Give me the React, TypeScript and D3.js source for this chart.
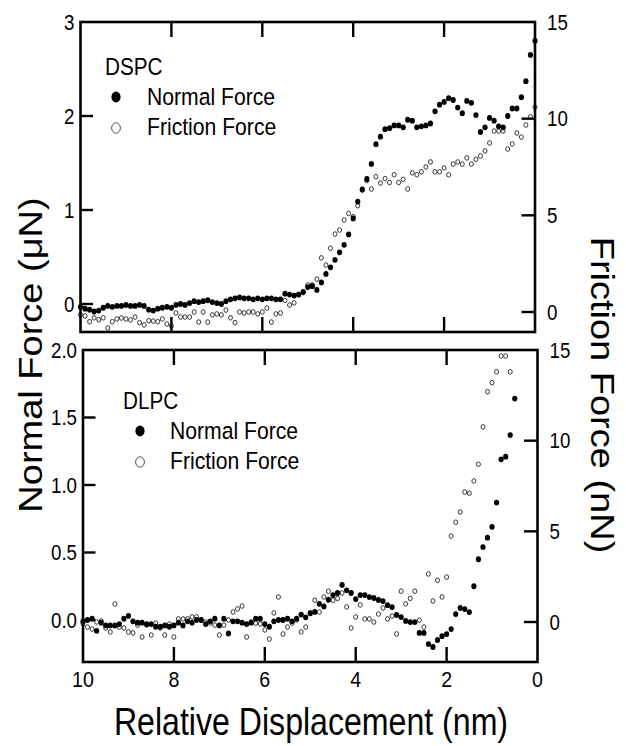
import React from 'react';
import * as d3 from 'd3';

// Relative displacement grid (nm): one sample every 0.1 nm
const displacement = [
  10.0, 9.9, 9.8, 9.7, 9.6, 9.5, 9.4, 9.3, 9.2, 9.1,
  9.0, 8.9, 8.8, 8.7, 8.6, 8.5, 8.4, 8.3, 8.2, 8.1,
  8.0, 7.9, 7.8, 7.7, 7.6, 7.5, 7.4, 7.3, 7.2, 7.1,
  7.0, 6.9, 6.8, 6.7, 6.6, 6.5, 6.4, 6.3, 6.2, 6.1,
  6.0, 5.9, 5.8, 5.7, 5.6, 5.5, 5.4, 5.3, 5.2, 5.1,
  5.0, 4.9, 4.8, 4.7, 4.6, 4.5, 4.4, 4.3, 4.2, 4.1,
  4.0, 3.9, 3.8, 3.7, 3.6, 3.5, 3.4, 3.3, 3.2, 3.1,
  3.0, 2.9, 2.8, 2.7, 2.6, 2.5, 2.4, 2.3, 2.2, 2.1,
  2.0, 1.9, 1.8, 1.7, 1.6, 1.5, 1.4, 1.3, 1.2, 1.1,
  1.0, 0.9, 0.8, 0.7, 0.6, 0.5, 0.4, 0.3, 0.2, 0.1, 0.0,
];

// DSPC normal force (μN)
const dspcNormal = [
  -0.03, -0.05, -0.06, -0.08, -0.07, -0.04, -0.02, -0.03, -0.02, -0.02,
  -0.01, -0.02, -0.02, -0.01, -0.02, -0.06, -0.07, -0.05, -0.04, -0.03,
  -0.04, -0.01, 0.0, -0.01, 0.01, 0.03, 0.02, 0.03, 0.04, 0.02,
  0.01, 0.0, 0.03, 0.05, 0.06, 0.07, 0.06, 0.06, 0.05, 0.06,
  0.05, 0.06, 0.06, 0.05, 0.05, 0.11, 0.10, 0.09, 0.10, 0.13,
  0.18, 0.19, 0.15, 0.23, 0.32, 0.39, 0.47, 0.55, 0.63, 0.74,
  0.91, 1.09, 1.22, 1.33, 1.49, 1.70, 1.78, 1.86, 1.87, 1.90,
  1.90, 1.88, 1.96, 1.95, 1.88, 1.89, 1.90, 1.92, 2.05, 2.12,
  2.15, 2.19, 2.17, 2.09, 2.03, 2.16, 2.14, 2.01, 1.83, 1.88,
  1.98, 1.95, 1.89, 1.88, 2.00, 2.08, 2.08, 2.20, 2.37, 2.65, 2.80,
];

// DSPC friction force (nN)
const dspcFriction = [
  -0.14, -0.2, -0.5, -0.3, -0.4, -0.3, -0.83, -0.5, -0.36, -0.31,
  -0.36, -0.41, -0.26, -0.55, -0.67, -0.45, -0.47, -0.5, -0.36, -0.62,
  -0.72, -0.05, -0.26, -0.26, -0.26, 0.0, -0.52, 0.0, -0.52, -0.15,
  -0.1, -0.15, 0.1, -0.3, -0.55, 0.0, -0.05, 0.0, 0.0, -0.1,
  0.0, 0.2, -0.52, -0.1, -0.05, 0.6, 0.36, 0.47, 0.9, 1.0,
  1.4, 1.4, 1.7, 2.8, 2.43, 3.3, 4.03, 4.24, 4.76, 5.1,
  4.93, 5.5, 6.3, 6.8, 6.36, 7.0, 6.67, 6.9, 6.7, 7.1,
  6.7, 6.86, 6.36, 7.2, 7.1, 7.25, 7.5, 7.76, 7.25, 7.25,
  7.45, 7.1, 7.65, 7.76, 7.65, 7.97, 7.65, 7.9, 8.07, 8.33,
  8.74, 9.36, 9.36, 9.36, 8.43, 8.69, 9.26, 9.05, 9.67, 10.1, 10.6,
];

// DLPC normal force (μN)
const dlpcNormal = [
  -0.01, 0.0, 0.01, -0.08, -0.02, -0.04, -0.04, -0.04, -0.03, 0.01,
  0.03, -0.01, -0.02, -0.02, -0.03, -0.03, -0.05, -0.05, -0.04, -0.05,
  -0.04, -0.02, -0.04, -0.01, -0.02, 0.0, 0.0, -0.03, -0.01, 0.01,
  -0.04, 0.01, -0.10, -0.01, -0.01, -0.02, -0.03, -0.02, 0.01, 0.01,
  -0.03, -0.05, -0.01, 0.0, 0.0, 0.01, -0.01, 0.01, 0.04, 0.02,
  0.05, 0.06, 0.12, 0.10, 0.15, 0.185, 0.20, 0.26, 0.22, 0.20,
  0.155, 0.185, 0.185, 0.17, 0.163, 0.148, 0.14, 0.11, 0.096, 0.037,
  0.022, -0.007, -0.015, -0.015, -0.096, -0.096, -0.178, -0.20, -0.148, -0.12,
  -0.104, -0.067, 0.044, 0.089, 0.081, 0.059, 0.25, 0.45, 0.54, 0.61,
  0.69, 0.87, 1.19, 1.21, 1.37, 1.64,
];

// DLPC friction force (nN)
const dlpcFriction = [
  -0.1, -0.28, -0.39, 0.0, 0.06, -0.33, -0.55, 0.99, -0.28, -0.33,
  -0.55, -0.6, -0.17, -0.83, -0.17, -0.72, -0.06, -0.33, -0.72, -0.11,
  -0.83, 0.17, 0.17, 0.17, 0.28, 0.28, 0.11, 0.0, -0.06, -0.17,
  -0.72, -0.17, 0.11, 0.55, 0.72, 0.88, -0.83, 0.0, -0.06, -0.11,
  -0.44, -0.94, 0.5, 1.38, -0.66, -0.28, -0.06, 0.11, -0.55, -0.28,
  0.5, 1.2, 0.55, 1.38, 1.7, 1.2, 1.3, 1.6, 0.83, -0.33,
  0.28, 0.94, 0.17, 0.17, 0.0, 0.44, 0.77, 0.17, 0.33, -0.66,
  1.7, 1.0, 1.3, 1.7, 0.1, -0.28, 2.65, 1.16, 2.3, 1.38,
  2.48, 4.74, 5.5, 6.07, 7.17, 7.1, 7.78, 8.7, 10.76, 12.7,
  13.2, 13.8, 14.67, 14.67, 13.8,
];

const xTickValues = [10, 8, 6, 4, 2, 0];
const topLeftTicks = [0, 1, 2, 3];
const topRightTicks = [0, 5, 10, 15];
const bottomLeftTicks = [0, 0.5, 1.0, 1.5, 2.0];
const bottomRightTicks = [0, 5, 10, 15];
const topLegend = ['DSPC', 'Normal Force', 'Friction Force'];
const bottomLegend = ['DLPC', 'Normal Force', 'Friction Force'];
const axisTitles = ['Normal Force (μN)', 'Friction Force (nN)', 'Relative Displacement (nm)'];

const FONT = "'Liberation Sans', Arial, Helvetica, sans-serif";

function SText({ x, y, size, anchor = 'start', rotate = 0, sx = 0.87, children }: any) {
  const t = rotate === 0
    ? `translate(${x},${y}) scale(${sx},1)`
    : `translate(${x},${y}) rotate(${rotate}) scale(1,${sx})`;
  return (
    <text transform={t} fontSize={size} textAnchor={anchor} fontFamily={FONT} fill="#000">
      {children}
    </text>
  );
}

function Panel({ frame, yLdom, yRdom, yL0, yR0, normal, friction, leftTicks, rightTicks, leftFmt, legend, legendPos, showX }: any) {
  const { x0, x1, y0, y1 } = frame;
  const x = d3.scaleLinear().domain([10, 0]).range([x0, x1]);
  const yL = d3.scaleLinear().domain(yLdom).range([yL0, y0]);
  const yR = d3.scaleLinear().domain(yRdom).range([yR0, y0]);
  const tickLenX = 15;
  const tickLenY = 12.5;
  const inner = xTickValues.filter((v) => v !== 10 && v !== 0);
  return (
    <g>
      {/* friction: open circles */}
      {friction.map((v: number, i: number) => (
        <ellipse key={'f' + i} cx={x(displacement[i])} cy={yR(v)} rx={2.0} ry={2.3}
          fill="#fff" stroke="#222" strokeWidth={0.9} />
      ))}
      {/* normal: filled dots */}
      {normal.map((v: number, i: number) => (
        <ellipse key={'n' + i} cx={x(displacement[i])} cy={yL(v)} rx={2.6} ry={2.9} fill="#000" />
      ))}
      {/* frame */}
      <rect x={x0} y={y0} width={x1 - x0} height={y1 - y0} fill="none" stroke="#000" strokeWidth={2.6} />
      {inner.map((v) => (
        <g key={'xt' + v}>
          <line x1={x(v)} x2={x(v)} y1={y0} y2={y0 + tickLenX} stroke="#000" strokeWidth={2.4} />
          <line x1={x(v)} x2={x(v)} y1={y1} y2={y1 - tickLenX} stroke="#000" strokeWidth={2.4} />
        </g>
      ))}
      {leftTicks.map((v: number) => (
        <g key={'lt' + v}>
          {yL(v) > y0 + 2 && (
            <line x1={x0} x2={x0 + tickLenY} y1={yL(v)} y2={yL(v)} stroke="#000" strokeWidth={2.4} />
          )}
          <SText x={x0 - 6} y={yL(v) + 7.6} size={21.5} anchor="end">{leftFmt(v)}</SText>
        </g>
      ))}
      {rightTicks.map((v: number) => (
        <g key={'rt' + v}>
          {yR(v) > y0 + 2 && (
            <line x1={x1} x2={x1 - tickLenY - 1} y1={yR(v)} y2={yR(v)} stroke="#000" strokeWidth={2.4} />
          )}
          <SText x={x1 + 12} y={yR(v) + 7.6} size={21.5} anchor="start">{String(v)}</SText>
        </g>
      ))}
      {showX && xTickValues.map((v) => (
        <SText key={'xl' + v} x={x(v)} y={y1 + 25} size={22.5} anchor="middle">{String(v)}</SText>
      ))}
      {/* legend */}
      <SText x={legendPos.tx} y={legendPos.ty} size={23} sx={0.9}>{legend[0]}</SText>
      <ellipse cx={legendPos.mx} cy={legendPos.ty + 22} rx={4.6} ry={5.4} fill="#000" />
      <SText x={legendPos.lx} y={legendPos.ty + 30} size={23.5} sx={0.9}>{legend[1]}</SText>
      <ellipse cx={legendPos.mx} cy={legendPos.ty + 53} rx={4.4} ry={5.2} fill="#fff" stroke="#555" strokeWidth={1} />
      <SText x={legendPos.lx} y={legendPos.ty + 60} size={23.5} sx={0.9}>{legend[2]}</SText>
    </g>
  );
}

export default function App() {
  return (
    <svg width={626} height={746} style={{ position: 'absolute', left: 0, top: 0, background: '#fff' }}>
      <rect x={0} y={0} width={626} height={746} fill="#fff" />
      <Panel
        frame={{ x0: 80.5, x1: 535, y0: 22, y1: 332 }}
        yLdom={[0, 3]} yL0={304}
        yRdom={[0, 15]} yR0={312}
        normal={dspcNormal} friction={dspcFriction}
        leftTicks={topLeftTicks} rightTicks={topRightTicks}
        leftFmt={(v: number) => String(v)}
        legend={topLegend}
        legendPos={{ tx: 105, ty: 75, mx: 116, lx: 147 }}
        showX={false}
      />
      <Panel
        frame={{ x0: 83, x1: 537.5, y0: 350, y1: 662 }}
        yLdom={[0, 2]} yL0={620}
        yRdom={[0, 15]} yR0={622}
        normal={dlpcNormal} friction={dlpcFriction}
        leftTicks={bottomLeftTicks} rightTicks={bottomRightTicks}
        leftFmt={(v: number) => d3.format('.1f')(v)}
        legend={bottomLegend}
        legendPos={{ tx: 123, ty: 409, mx: 140, lx: 170 }}
        showX={true}
      />
      <SText x={42} y={355} size={38} anchor="middle" rotate={-90}>{axisTitles[0]}</SText>
      <SText x={591} y={395} size={38} anchor="middle" rotate={90}>{axisTitles[1]}</SText>
      <SText x={311} y={735} size={38} anchor="middle" sx={0.845}>{axisTitles[2]}</SText>
    </svg>
  );
}
